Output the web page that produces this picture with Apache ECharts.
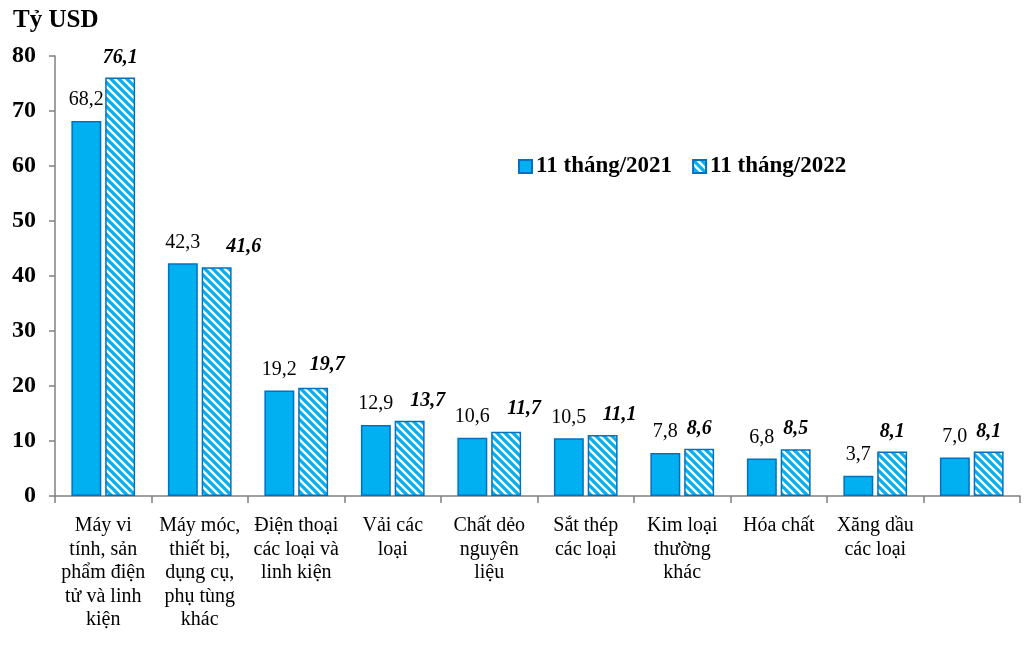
<!DOCTYPE html>
<html><head><meta charset="utf-8">
<script src="https://cdn.jsdelivr.net/npm/echarts@6/dist/echarts.min.js"></script>
<style>html,body{margin:0;padding:0;background:#fff}#c{width:1030px;height:666px}</style>
</head><body><div id="c"></div>
<script>
const categories = [
  "Máy vi\ntính, sản\nphẩm điện\ntử và linh\nkiện",
  "Máy móc,\nthiết bị,\ndụng cụ,\nphụ tùng\nkhác",
  "Điện thoại\ncác loại và\nlinh kiện",
  "Vải các\nloại",
  "Chất dẻo\nnguyên\nliệu",
  "Sắt thép\ncác loại",
  "Kim loại\nthường\nkhác",
  "Hóa chất",
  "Xăng dầu\ncác loại",
  ""
];
const values2021 = [68.2, 42.3, 19.2, 12.9, 10.6, 10.5, 7.8, 6.8, 3.7, 7.0];
const values2022 = [76.1, 41.6, 19.7, 13.7, 11.7, 11.1, 8.6, 8.5, 8.1, 8.1];
const seriesNames = ["11 tháng/2021", "11 tháng/2022"];
const yTicks = [0, 10, 20, 30, 40, 50, 60, 70, 80];

// label nudges (layout only), as in the reference where some labels were moved aside
const labelNudge2022 = [[0,0],[27,0],[14,-3],[18,0],[18,-3],[17,0],[0,0],[0,0],[0,0],[0,0]];

function makePattern(){
  const s = 8;
  const c = document.createElement('canvas'); c.width = s; c.height = s;
  const g = c.getContext('2d');
  g.fillStyle = '#fff'; g.fillRect(0,0,s,s);
  g.strokeStyle = '#00B0F0'; g.lineWidth = 3.2;
  g.beginPath();
  g.moveTo(-s,0); g.lineTo(s,2*s);
  g.moveTo(0,0); g.lineTo(s,s);
  g.moveTo(0,-s); g.lineTo(2*s,s);
  g.moveTo(-s,-s); g.lineTo(2*s,2*s);
  g.stroke();
  return c;
}
const fmt = v => v.toFixed(1).replace('.', ',');
const font = 'Liberation Serif';
const chart = echarts.init(document.getElementById('c'));
chart.setOption({
  animation: false,
  backgroundColor: '#fff',
  textStyle: { fontFamily: font },
  title: { text: 'Tỷ USD', left: 8, top: 3, textStyle: { fontFamily: font, fontSize: 25, fontWeight: 'bold', color: '#000' } },
  legend: {
    left: 513, top: 150, itemWidth: 13, itemHeight: 13, itemGap: 20, icon: 'rect',
    textStyle: { fontFamily: font, fontSize: 23, fontWeight: 'bold', color: '#000', padding: [0,0,0,-1] },
    data: seriesNames
  },
  grid: { left: 55, right: 10, top: 56, bottom: 170, containLabel: false },
  xAxis: {
    type: 'category', data: categories,
    axisLine: { lineStyle: { color: '#808080', width: 1.5 } },
    axisTick: { show: true, length: 7, lineStyle: { color: '#808080', width: 1.5 } },
    axisLabel: { interval: 0, color: '#000', fontFamily: font, fontSize: 20, lineHeight: 23.5, margin: 18 }
  },
  yAxis: {
    type: 'value', min: 0, max: 80, interval: 10,
    splitLine: { show: false },
    axisLine: { show: true, lineStyle: { color: '#808080', width: 1.5 } },
    axisTick: { show: true, length: 6, lineStyle: { color: '#808080', width: 1.5 } },
    axisLabel: { color: '#000', fontFamily: font, fontSize: 24, fontWeight: 'bold', margin: 19 }
  },
  series: [
    {
      name: seriesNames[0], type: 'bar', data: values2021,
      barWidth: '31%', barGap: '13%',
      itemStyle: { color: '#00B0F0', borderColor: '#0070C0', borderWidth: 1.5 },
      label: { show: true, position: 'top', distance: 11, formatter: p => fmt(p.value), color: '#000', fontFamily: font, fontSize: 20 }
    },
    {
      name: seriesNames[1], type: 'bar',
      data: values2022.map((v, i) => ({ value: v, label: { offset: labelNudge2022[i] } })),
      barWidth: '31%',
      itemStyle: { color: { image: makePattern(), repeat: 'repeat' }, borderColor: '#0070C0', borderWidth: 1.5 },
      label: { show: true, position: 'top', distance: 10, formatter: p => fmt(p.value), color: '#000', fontFamily: font, fontSize: 20, fontWeight: 'bold', fontStyle: 'italic' }
    }
  ]
});
</script></body></html>
